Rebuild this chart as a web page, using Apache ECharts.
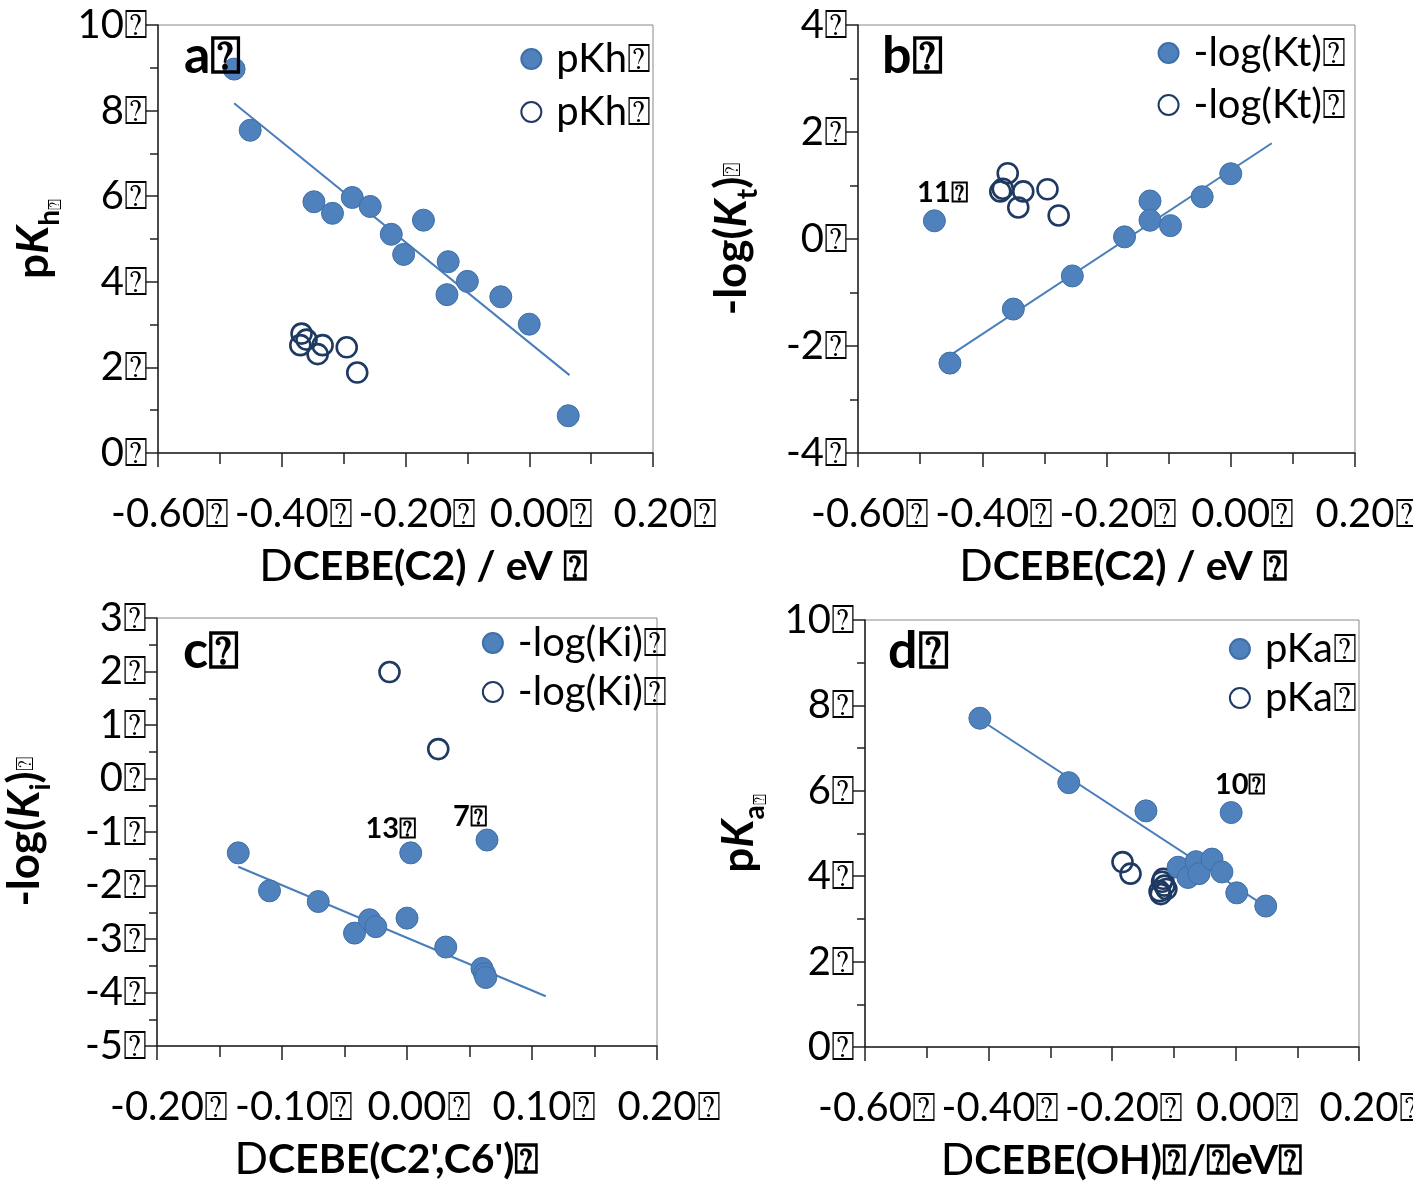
<!DOCTYPE html>
<html lang="en">
<head>
    <meta charset="UTF-8">
    <title>CEBE correlations</title>
    <script src="https://cdn.jsdelivr.net/npm/echarts@6/dist/echarts.min.js"></script>
    <style>
        html, body { margin: 0; padding: 0; background: #fff; }
        #chart { width: 1413px; height: 1181px; }
    </style>
</head>
<body>
    <div id="chart"></div>
    <script>
        // missing-glyph box that trails every label in the original figure
        var Q = '\u2370';

        // panel a: pKh vs DCEBE(C2)
        var aFilledX = [-0.477, -0.451, -0.348, -0.318, -0.286, -0.257, -0.223, -0.203, -0.171, -0.131, -0.133, -0.100, -0.046, 0.000, 0.063];
        var aFilledY = [8.97, 7.54, 5.87, 5.60, 5.97, 5.76, 5.11, 4.64, 5.44, 4.47, 3.70, 4.01, 3.65, 3.01, 0.87];
        var aOpenX = [-0.368, -0.370, -0.360, -0.342, -0.334, -0.295, -0.278];
        var aOpenY = [2.79, 2.52, 2.65, 2.31, 2.52, 2.47, 1.88];
        var aFitX = [-0.477, 0.065];
        var aFitY = [8.17, 1.82];

        // panel b: -log(Kt) vs DCEBE(C2)
        var bFilledX = [-0.477, -0.452, -0.350, -0.255, -0.171, -0.130, -0.130, -0.097, -0.046, 0.000];
        var bFilledY = [0.34, -2.32, -1.31, -0.69, 0.04, 0.71, 0.35, 0.25, 0.79, 1.22];
        var bOpenX = [-0.359, -0.371, -0.367, -0.334, -0.342, -0.295, -0.277];
        var bOpenY = [1.23, 0.89, 0.94, 0.89, 0.59, 0.93, 0.44];
        var bFitX = [-0.450, 0.066];
        var bFitY = [-2.16, 1.79];

        // panel c: -log(Ki) vs DCEBE(C2',C6')
        var cFilledX = [-0.135, -0.110, -0.071, -0.042, -0.030, -0.025, 0.000, 0.003, 0.031, 0.060, 0.062, 0.063, 0.064];
        var cFilledY = [-1.39, -2.10, -2.30, -2.89, -2.64, -2.77, -2.61, -1.39, -3.15, -3.55, -3.65, -3.72, -1.15];
        var cOpenX = [-0.014, 0.025];
        var cOpenY = [1.99, 0.55];
        var cFitX = [-0.135, 0.111];
        var cFitY = [-1.65, -4.07];

        // panel d: pKa vs DCEBE(OH)
        var dFilledX = [-0.414, -0.270, -0.145, -0.093, -0.077, -0.064, -0.059, -0.038, -0.022, -0.007, 0.002, 0.049];
        var dFilledY = [7.70, 6.19, 5.53, 4.21, 3.97, 4.34, 4.06, 4.40, 4.10, 5.49, 3.61, 3.30];
        var dOpenX = [-0.183, -0.170, -0.119, -0.115, -0.123, -0.112, -0.121, -0.117];
        var dOpenY = [4.33, 4.06, 3.87, 3.78, 3.65, 3.70, 3.58, 3.94];
        var dFitX = [-0.414, 0.050];
        var dFitY = [7.67, 3.28];

        // point annotations: [index into filled arrays, text]
        var bNotes = [[0, '11']];
        var cNotes = [[7, '13'], [12, '7']];
        var dNotes = [[9, '10']];

        var legendNames = ['pKh', '-log(Kt)', '-log(Ki)', 'pKa'];
        var panelLetters = ['a', 'b', 'c', 'd'];

        var FONT = 'Lato, "Open Sans", sans-serif';
        var FILL = '#4F81BD';
        var RING = '#1F3A62';

        var chart = echarts.init(document.getElementById('chart'));

        function zip(xs, ys) {
            return xs.map(function (x, i) { return [x, ys[i]]; });
        }

        function fmt(v, d) {
            if (Math.abs(v) < 1e-9) v = 0;
            return v.toFixed(d) + Q;
        }

        var grids = [
            { left: 158, top: 25, width: 495, height: 428 },
            { left: 858, top: 25, width: 497, height: 428 },
            { left: 157, top: 618, width: 500, height: 428 },
            { left: 865, top: 620, width: 494, height: 427 }
        ];

        var xCfg = [
            { min: -0.6, max: 0.2, interval: 0.2, split: 2, pad: [0, 0, 0, 36], title: 'CEBE(C2) / eV ' + Q },
            { min: -0.6, max: 0.2, interval: 0.2, split: 2, pad: [0, 0, 0, 34], title: 'CEBE(C2) / eV ' + Q },
            { min: -0.2, max: 0.2, interval: 0.1, split: 2, pad: [0, 40, 0, 0], title: "CEBE(C2',C6')" + Q },
            { min: -0.6, max: 0.2, interval: 0.2, split: 2, pad: [0, 0, 0, 20], title: 'CEBE(OH)' + Q + '/' + Q + 'eV' + Q }
        ];

        var yCfg = [
            { min: 0, max: 10, interval: 2, split: 2, gap: 94, name: '{b|p}{bi|K}{sub|h}{q|' + Q + '}' },
            { min: -4, max: 4, interval: 2, split: 2, gap: 96, name: '{b|-log(}{bi|K}{sub|t}{b|)}{q2|' + Q + '}' },
            { min: -5, max: 3, interval: 1, split: 2, gap: 102, name: '{b|-log(}{bi|K}{sub|i}{b|)}{q2|' + Q + '}' },
            { min: 0, max: 10, interval: 2, split: 2, gap: 96, name: '{b|p}{bi|K}{sub|a}{q|' + Q + '}' }
        ];

        var axisLine = { onZero: false, lineStyle: { color: '#222', width: 1.5 } };

        var xAxes = xCfg.map(function (c, i) {
            return {
                type: 'value', gridIndex: i, min: c.min, max: c.max, interval: c.interval,
                splitLine: { show: false },
                axisLine: axisLine,
                axisTick: { show: true, inside: false, length: 14, lineStyle: { color: '#222', width: 1.5 } },
                minorTick: { show: true, splitNumber: c.split, length: 11, lineStyle: { color: '#222', width: 1.5 } },
                axisLabel: {
                    margin: 41, fontFamily: FONT, fontSize: 40, color: '#000', padding: [0, 0, 0, 24],
                    formatter: function (v) { return fmt(v, 2); }
                },
                name: '{d|D}{b|' + c.title + '}',
                nameLocation: 'middle', nameGap: 92,
                nameTextStyle: {
                    padding: c.pad,
                    rich: {
                        d: { fontFamily: FONT, fontSize: 44, color: '#000' },
                        b: { fontFamily: FONT, fontSize: 41, fontWeight: 'bold', color: '#000' }
                    }
                }
            };
        });

        var yAxes = yCfg.map(function (c, i) {
            return {
                type: 'value', gridIndex: i, min: c.min, max: c.max, interval: c.interval,
                splitLine: { show: false },
                axisLine: axisLine,
                axisTick: { show: true, inside: false, length: 12, lineStyle: { color: '#222', width: 1.5 } },
                minorTick: { show: true, splitNumber: c.split, length: 8, lineStyle: { color: '#222', width: 1.5 } },
                axisLabel: {
                    margin: 10, fontFamily: FONT, fontSize: 40, color: '#000',
                    formatter: function (v) { return fmt(v, 0); }
                },
                name: c.name,
                nameLocation: 'middle', nameRotate: 90, nameGap: c.gap,
                nameTextStyle: {
                    rich: {
                        b: { fontFamily: FONT, fontSize: 44, fontWeight: 'bold', color: '#000', lineHeight: 60, verticalAlign: 'middle' },
                        bi: { fontFamily: FONT, fontSize: 44, fontWeight: 'bold', fontStyle: 'italic', color: '#000', lineHeight: 60, verticalAlign: 'middle' },
                        sub: { fontFamily: FONT, fontSize: 28, fontWeight: 'bold', color: '#000', lineHeight: 60, verticalAlign: 'bottom' },
                        q: { fontFamily: FONT, fontSize: 18, color: '#000', lineHeight: 60, verticalAlign: 'bottom' },
                        q2: { fontFamily: FONT, fontSize: 24, color: '#000', lineHeight: 60, verticalAlign: 'middle' }
                    }
                }
            };
        });

        var panels = [
            { fx: aFilledX, fy: aFilledY, ox: aOpenX, oy: aOpenY, lx: aFitX, ly: aFitY, notes: [] },
            { fx: bFilledX, fy: bFilledY, ox: bOpenX, oy: bOpenY, lx: bFitX, ly: bFitY, notes: bNotes },
            { fx: cFilledX, fy: cFilledY, ox: cOpenX, oy: cOpenY, lx: cFitX, ly: cFitY, notes: cNotes },
            { fx: dFilledX, fy: dFilledY, ox: dOpenX, oy: dOpenY, lx: dFitX, ly: dFitY, notes: dNotes }
        ];

        // label offsets for the annotated points, in px
        var noteOffsets = { '11': [8, -28], '13': [-20, -24], '7': [-17, -23], '10': [9, -28] };

        var series = [];
        panels.forEach(function (p, i) {
            series.push({
                type: 'line', xAxisIndex: i, yAxisIndex: i, z: 1,
                data: zip(p.lx, p.ly), showSymbol: false, silent: true,
                lineStyle: { color: '#4A7EBB', width: 2 }
            });
            var filled = zip(p.fx, p.fy).map(function (pt, k) {
                var item = { value: pt };
                p.notes.forEach(function (n) {
                    if (n[0] === k) {
                        item.label = {
                            show: true, formatter: n[1] + Q, position: 'inside',
                            offset: noteOffsets[n[1]],
                            fontFamily: FONT, fontSize: 29, fontWeight: 'bold', color: '#000'
                        };
                    }
                });
                return item;
            });
            series.push({
                type: 'scatter', name: 'f' + i, xAxisIndex: i, yAxisIndex: i, z: 3,
                symbol: 'circle', symbolSize: 22, data: filled,
                itemStyle: { color: FILL, borderColor: '#3F6FA8', borderWidth: 1, opacity: 1 }
            });
            series.push({
                type: 'scatter', name: 'o' + i, xAxisIndex: i, yAxisIndex: i, z: 2,
                symbol: 'circle', symbolSize: 20, data: zip(p.ox, p.oy),
                itemStyle: { color: 'rgba(255,255,255,0)', borderColor: RING, borderWidth: 2.6, opacity: 1 }
            });
        });

        var legendPos = [
            { right: 757, top: 34, gap: 13 },
            { right: 62, top: 28, gap: 12 },
            { right: 741, top: 618, gap: 9 },
            { right: 51, top: 624, gap: 9 }
        ];

        var legends = legendPos.map(function (pos, i) {
            return {
                right: pos.right, top: pos.top, orient: 'vertical', itemGap: pos.gap,
                itemWidth: 22, itemHeight: 20, selectedMode: false,
                data: [{ name: 'f' + i, icon: 'circle' }, { name: 'o' + i, icon: 'circle' }],
                formatter: function () { return legendNames[i] + Q; },
                textStyle: { fontFamily: FONT, fontSize: 40, color: '#000', padding: [0, 0, 0, 9] }
            };
        });

        var letterPos = [[184, 30], [882, 30], [183, 625], [888, 625]];
        var graphics = letterPos.map(function (lp, i) {
            return {
                type: 'text', left: lp[0], top: lp[1], z: 10,
                style: { text: panelLetters[i] + Q, font: 'bold 52px ' + FONT, fill: '#000' }
            };
        });

        chart.setOption({
            animation: false,
            backgroundColor: '#fff',
            grid: grids.map(function (g) {
                return Object.assign({
                    show: true, borderColor: '#888', borderWidth: 1, backgroundColor: 'transparent',
                    containLabel: false, outerBoundsMode: 'none'
                }, g);
            }),
            xAxis: xAxes,
            yAxis: yAxes,
            legend: legends,
            graphic: graphics,
            series: series
        });
    </script>
</body>
</html>
